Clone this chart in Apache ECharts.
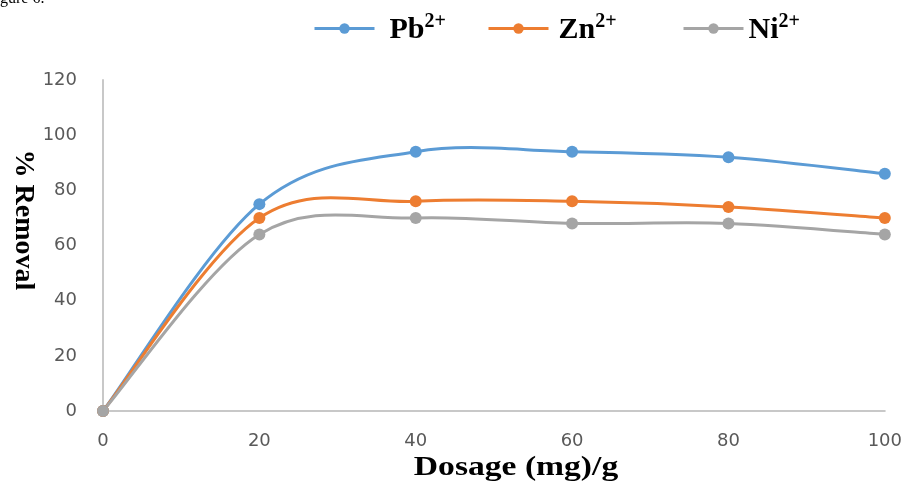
<!DOCTYPE html>
<html><head><meta charset="utf-8">
<script src="https://cdn.jsdelivr.net/npm/echarts@6/dist/echarts.min.js"></script>
<style>html,body{margin:0;padding:0;background:#fff}#c{width:905px;height:483px}</style>
</head><body><div id="c"></div>
<script>
const dosage = [0, 20, 40, 60, 80, 100];
const pb = [0, 75, 94, 94, 92, 86];
const zn = [0, 70, 76, 76, 74, 70];
const ni = [0, 64, 70, 68, 68, 64];
const ions = [['Pb', '2+'], ['Zn', '2+'], ['Ni', '2+']];
const names = ions.map(i => i[0] + i[1]);
const colors = ['#5B9BD5', '#ED7D31', '#A5A5A5'];
const xTitle = 'Dosage (mg)/g';
const yTitle = '% Removal';
const serif = '"Liberation Serif", "Times New Roman", serif';

// Excel-like smoothed curve (Catmull-Rom Bezier) drawn through the axes' scales
const curve = (n, d, c) => ({
  name: n, type: 'custom', z: 2, silent: true,
  data: dosage.map((x, i) => [x, d[i]]),
  encode: {x: 0, y: 1},
  itemStyle: {color: c},
  renderItem: (params, api) => {
    const i = params.dataIndex, L = dosage.length;
    if (i >= L - 1) return null;
    const P = k => { k = Math.max(0, Math.min(L - 1, k)); return api.coord([dosage[k], d[k]]); };
    const p0 = P(i - 1), p1 = P(i), p2 = P(i + 1), p3 = P(i + 2);
    return {
      type: 'bezierCurve',
      shape: {
        x1: p1[0], y1: p1[1], x2: p2[0], y2: p2[1],
        cpx1: p1[0] + (p2[0] - p0[0]) / 6, cpy1: p1[1] + (p2[1] - p0[1]) / 6,
        cpx2: p2[0] - (p3[0] - p1[0]) / 6, cpy2: p2[1] - (p3[1] - p1[1]) / 6
      },
      style: {stroke: c, lineWidth: 3, fill: null, lineCap: 'round'}
    };
  }
});
const marks = (n, d, c) => ({
  name: n, type: 'line', z: 3, data: dosage.map((x, i) => [x, d[i]]),
  symbol: 'circle', symbolSize: 12,
  lineStyle: {width: 3, color: c, opacity: 0}, itemStyle: {color: c}
});
const legendAt = (i, left, gap) => ({
  top: 7, left: left, itemWidth: 60, itemHeight: 13, selectedMode: false,
  data: [names[i]],
  lineStyle: {opacity: 1, width: 3, color: colors[i]},
  itemStyle: {color: colors[i]},
  formatter: () => '{b|' + ions[i][0] + '}{s|' + ions[i][1] + '}',
  textStyle: {
    rich: {
      b: {fontFamily: serif, fontWeight: 'bold', fontSize: 30, color: '#000', padding: [3, 0, 0, gap]},
      s: {fontFamily: serif, fontWeight: 'bold', fontSize: 20, color: '#000', verticalAlign: 'top', padding: [0, 0, 4, 0]}
    }
  }
});
const chart = echarts.init(document.getElementById('c'));
chart.setOption({
  animation: false,
  graphic: [
    {type: 'text', left: 0, top: -9, style: {text: 'gure 6.', font: '16px ' + serif, fill: '#000'}},
    {type: 'text', x: 516, y: 468, scaleX: 1.2, style: {text: xTitle, font: 'bold 28px ' + serif, fill: '#000', align: 'center', verticalAlign: 'middle'}},
    {type: 'text', x: 23, y: 220, rotation: -Math.PI / 2, style: {text: yTitle, font: 'bold 28px ' + serif, fill: '#000', align: 'center', verticalAlign: 'middle'}}
  ],
  legend: [legendAt(0, 308, 10), legendAt(1, 482, 5), legendAt(2, 677, 0)],
  grid: {left: 103, right: 20, top: 80, bottom: 72},
  xAxis: {
    type: 'value', min: 0, max: 100, interval: 20,
    axisLine: {lineStyle: {color: '#C8C8C8', width: 2}},
    axisTick: {show: false}, splitLine: {show: false},
    axisLabel: {color: '#595959', fontSize: 18, fontFamily: 'DejaVu Sans', margin: 21}
  },
  yAxis: {
    type: 'value', min: 0, max: 120, interval: 20,
    axisLine: {show: true, lineStyle: {color: '#C8C8C8', width: 2}},
    axisTick: {show: false}, splitLine: {show: false},
    axisLabel: {color: '#595959', fontSize: 18, fontFamily: 'DejaVu Sans', margin: 26}
  },
  series: [
    marks(names[0], pb, colors[0]), marks(names[1], zn, colors[1]), marks(names[2], ni, colors[2]),
    curve(names[0], pb, colors[0]), curve(names[1], zn, colors[1]), curve(names[2], ni, colors[2])
  ]
});
</script></body></html>
